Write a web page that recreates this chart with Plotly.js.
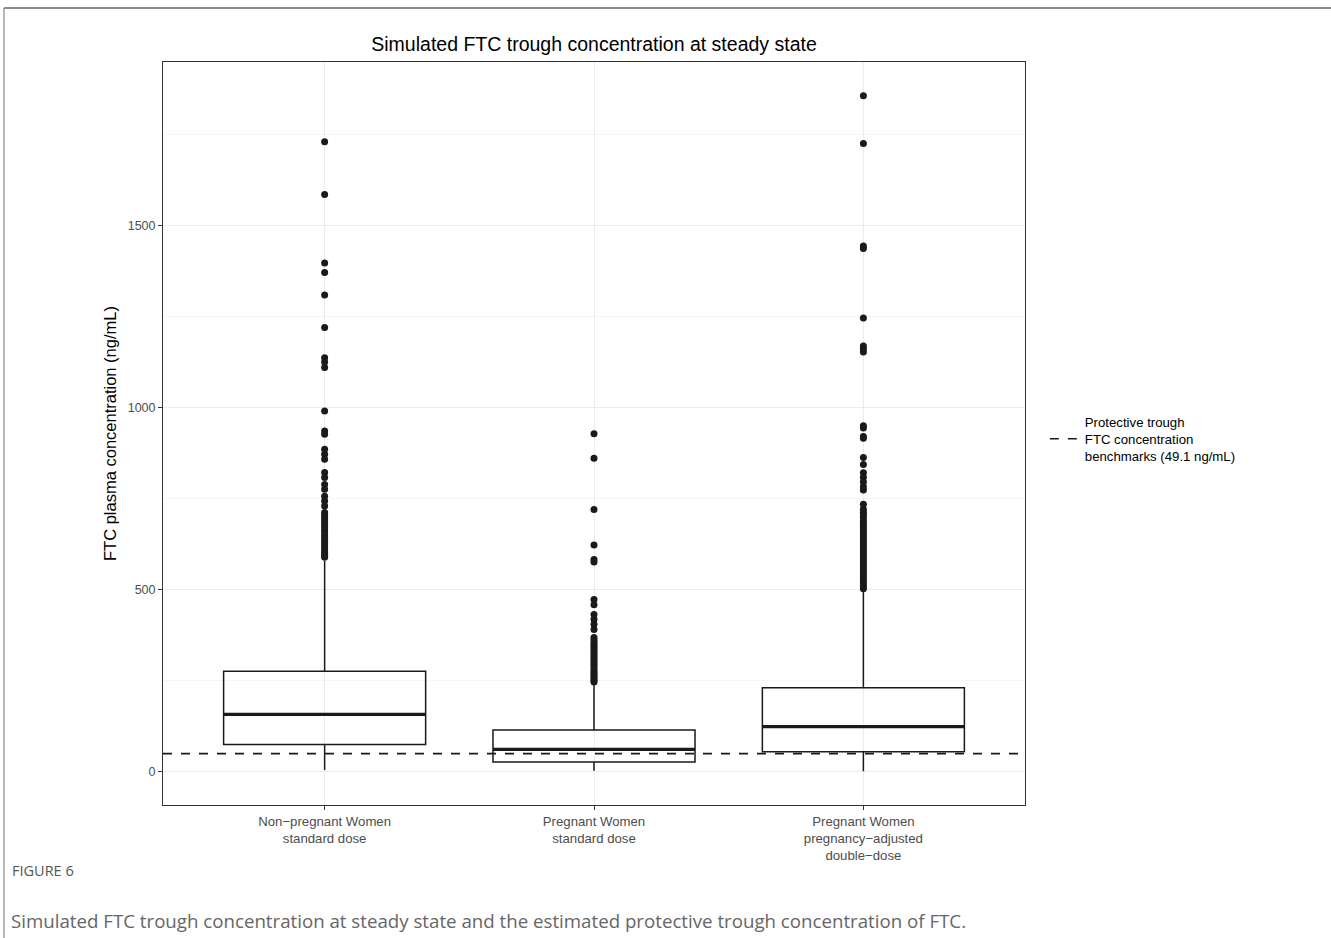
<!DOCTYPE html>
<html>
<head>
<meta charset="utf-8">
<script src="https://cdn.plot.ly/plotly-3.0.1.min.js"></script>
<style>
  html, body { margin: 0; padding: 0; background: #fff; }
  #chart { width: 1331px; height: 938px; }
</style>
</head>
<body>
<div id="chart"></div>
<script>
// ---- data ----
const categories = [
  "Non\u2212pregnant Women<br>standard dose",
  "Pregnant Women<br>standard dose",
  "Pregnant Women<br>pregnancy\u2212adjusted<br>double\u2212dose"
];
const lowerFence = [4, 2, 1];
const q1Values = [74, 26, 54];
const medianValues = [157, 61, 123];
const q3Values = [275, 114, 230];
const upperFence = [578, 242, 495];

const outliersNonPregnant = [1729, 1584, 1396, 1370, 1308, 1219, 1136, 1124, 1109, 990, 935, 926, 885, 871, 857, 821, 807, 788, 775, 756, 743, 729, 711, 704, 697, 690, 684, 677, 671, 664, 658, 651, 645, 638, 632, 626, 619, 613, 607, 601, 596, 592, 588];
const outliersPregnantStd = [927, 860, 719, 622, 582, 575, 472, 458, 431, 418, 404, 390, 368, 362, 355, 349, 343, 337, 331, 325, 319, 313, 307, 301, 296, 290, 285, 279, 274, 269, 264, 259, 254, 250, 246];
const outliersPregnantDouble = [1855, 1724, 1443, 1436, 1245, 1168, 1160, 1152, 949, 943, 920, 915, 862, 843, 820, 808, 795, 782, 773, 734, 720, 712, 705, 698, 690, 683, 676, 669, 662, 655, 648, 641, 634, 627, 620, 613, 606, 599, 592, 585, 578, 571, 564, 557, 550, 543, 536, 529, 522, 515, 508, 502];

const benchmark = 49.1;
const benchmarkLabel = "Protective trough<br>FTC concentration<br>benchmarks (49.1 ng/mL)";
const yTickVals = [0, 500, 1000, 1500];

// ---- build ----
const idx = categories.map((_, i) => i);
const boxWidth = 0.75;
const xRange = [-0.6, 2.6];

const boxTrace = {
  type: 'box',
  x: idx,
  q1: q1Values, median: medianValues, q3: q3Values,
  lowerfence: lowerFence, upperfence: upperFence,
  width: boxWidth,
  boxpoints: false,
  fillcolor: 'rgba(255,255,255,0)',
  line: { color: '#1a1a1a', width: 1.5 },
  whiskerwidth: 0,
  showlegend: false,
  hoverinfo: 'skip'
};

const medX = [], medY = [];
idx.forEach(i => {
  medX.push(i - boxWidth / 2, i + boxWidth / 2, null);
  medY.push(medianValues[i], medianValues[i], null);
});
const medianTrace = {
  type: 'scatter', mode: 'lines', x: medX, y: medY,
  line: { color: '#1a1a1a', width: 3.2 }, showlegend: false, hoverinfo: 'skip'
};

const allOutliers = [outliersNonPregnant, outliersPregnantStd, outliersPregnantDouble];
const oX = [], oY = [];
allOutliers.forEach((arr, i) => arr.forEach(v => { oX.push(i); oY.push(v); }));
const outlierTrace = {
  type: 'scatter', mode: 'markers', x: oX, y: oY,
  marker: { color: '#1a1a1a', size: 7 }, showlegend: false
};

const benchTrace = {
  type: 'scatter', mode: 'lines',
  x: xRange, y: [benchmark, benchmark],
  line: { color: '#1a1a1a', width: 1.6, dash: 'dash' },
  name: benchmarkLabel, showlegend: true
};

const layout = {
  width: 1331, height: 938,
  margin: { l: 163, r: 306, t: 62, b: 133 },
  paper_bgcolor: '#fff', plot_bgcolor: '#fff',
  font: { family: 'Liberation Sans, Arial, sans-serif', color: '#000' },
  title: {
    text: 'Simulated FTC trough concentration at steady state',
    font: { size: 19.5, color: '#000' },
    x: 0.4463, xref: 'container', xanchor: 'center',
    y: 0.953, yref: 'container', yanchor: 'middle'
  },
  xaxis: {
    range: xRange, tickmode: 'array', tickvals: idx, ticktext: categories,
    showgrid: true, gridcolor: '#ebebeb', gridwidth: 1,
    zeroline: false, showline: true, mirror: true, linecolor: '#333', linewidth: 1,
    ticks: 'outside', ticklen: 4, tickcolor: '#333',
    tickfont: { size: 13.2, color: '#4d4d4d' }
  },
  yaxis: {
    range: [-92, 1948], tickmode: 'array', tickvals: yTickVals,
    showgrid: true, gridcolor: '#ebebeb', gridwidth: 1,
    minor: { dtick: 250, tick0: 0, showgrid: true, gridcolor: '#f4f4f4', gridwidth: 0.8 },
    zeroline: false, showline: true, mirror: true, linecolor: '#333', linewidth: 1,
    ticks: 'outside', ticklen: 4, tickcolor: '#333',
    tickfont: { size: 12.5, color: '#4d4d4d' },
    title: { text: 'FTC plasma concentration (ng/mL)', font: { size: 16.5, color: '#000' }, standoff: 6 }
  },
  showlegend: true,
  legend: {
    x: 1.023, xanchor: 'left', y: 0.4926, yanchor: 'middle',
    font: { size: 13.2, color: '#000' }, itemwidth: 30, valign: 'middle',
    bgcolor: 'rgba(0,0,0,0)'
  },
  shapes: [
    { type: 'line', xref: 'paper', yref: 'paper', x0: -0.1845, x1: 1.36, y0: 1.0727, y1: 1.0727,
      line: { color: '#8a8a8a', width: 2 } },
    { type: 'line', xref: 'paper', yref: 'paper', x0: -0.1845, x1: -0.1845, y0: 1.0727, y1: -0.2,
      line: { color: '#8a8a8a', width: 1.2 } }
  ],
  annotations: [
    { text: 'FIGURE 6', xref: 'paper', yref: 'paper', x: -0.1775, y: -0.0875,
      xanchor: 'left', yanchor: 'middle', showarrow: false,
      font: { family: 'Open Sans, Noto Sans, sans-serif', size: 14.5, color: '#555' } },
    { text: 'Simulated FTC trough concentration at steady state and the estimated protective trough concentration of FTC.',
      xref: 'paper', yref: 'paper', x: -0.1785, y: -0.1548,
      xanchor: 'left', yanchor: 'middle', showarrow: false,
      font: { family: 'Open Sans, Noto Sans, sans-serif', size: 18.7, color: '#666' } }
  ]
};

Plotly.newPlot('chart', [boxTrace, medianTrace, outlierTrace, benchTrace], layout, { displayModeBar: false, staticPlot: true });
</script>
</body>
</html>
